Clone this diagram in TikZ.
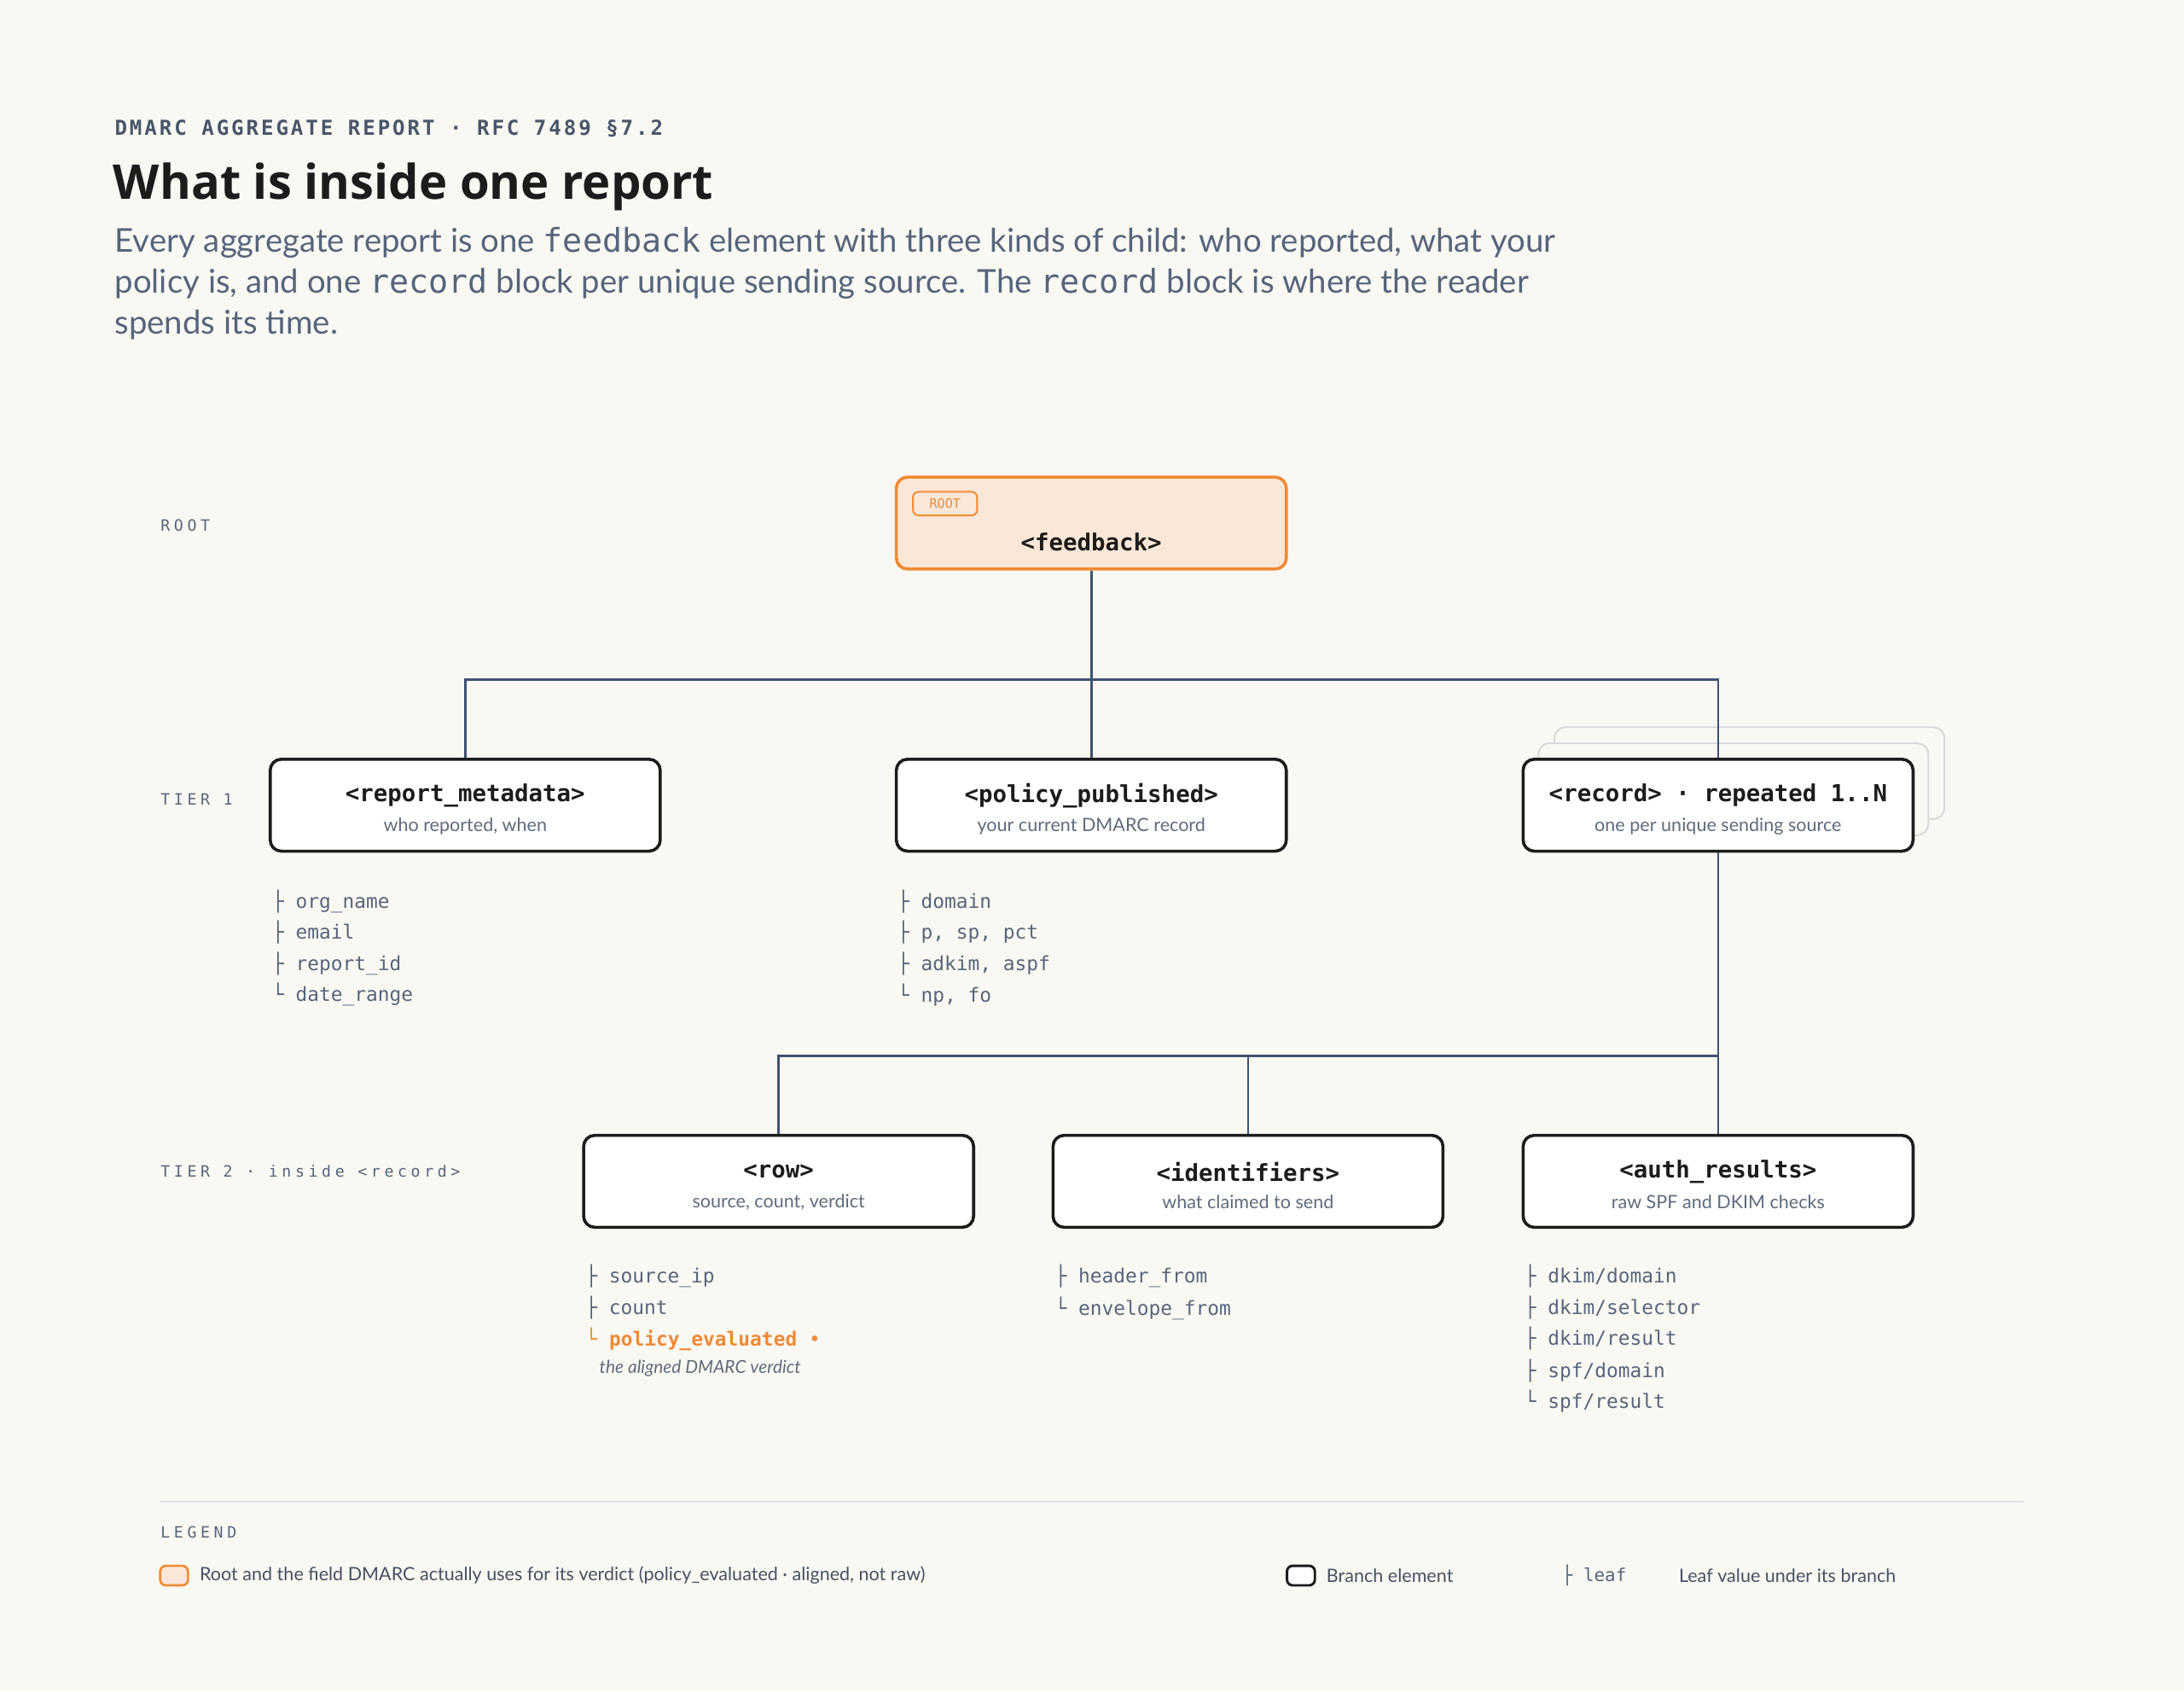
\documentclass[tikz,border=0pt]{standalone}
\usepackage{fontspec}
\setmainfont{Lato}
\setmonofont{DejaVu Sans Mono}
\newfontfamily\titlefont{Open Sans}
\newfontfamily\spmono[LetterSpace=25]{DejaVu Sans Mono}
\newfontfamily\spmonoB[LetterSpace=12]{DejaVu Sans Mono}
\definecolor{bg}{HTML}{FAF8F3}
\definecolor{slate}{HTML}{56657A}
\definecolor{ink}{HTML}{1C1C1C}
\definecolor{wire}{HTML}{3E5272}
\definecolor{org}{HTML}{EE8A35}
\definecolor{orgfill}{HTML}{FBE7D7}
\definecolor{sub}{HTML}{5F6B7C}
\begin{document}
\begin{tikzpicture}[x=0.5pt,y=-0.5pt,
  box/.style={draw=ink,line width=1.1pt,fill=white,rounded corners=4pt,minimum width=140pt,minimum height=33pt,inner sep=0pt},
  ghost/.style={draw=black!15,line width=0.6pt,fill=bg,rounded corners=4pt,minimum width=140pt,minimum height=33pt},
  lbl/.style={font=\ttfamily\fontsize{8.4}{10}\selectfont\bfseries,text=ink},
  sl/.style={font=\fontsize{6.6}{7}\selectfont,text=sub},
  leaf/.style={anchor=west,inner sep=0,font=\ttfamily\fontsize{7}{8}\selectfont,text=slate},
  tier/.style={anchor=west,inner sep=0,font=\spmono\fontsize{5.6}{6}\selectfont,text=slate},
  wirel/.style={draw=wire,line width=0.8pt}]
\fill[bg] (0,0) rectangle (1568,1214);
\useasboundingbox (0,0) rectangle (1568,1214);
% header
\node[anchor=west,inner sep=0,font=\spmonoB\fontsize{7.4}{8}\selectfont\bfseries,text=slate!85!black] (hd) at (82,92) {DMARC AGGREGATE REPORT · RFC 7489 §7.2};
\node[anchor=west,inner sep=0,font=\titlefont\fontsize{17.2}{22}\selectfont\bfseries,text=ink] (tt) at (81,134) {What is inside one report};
\node[anchor=north west,inner sep=0,align=left,font=\fontsize{11.75}{14.6}\selectfont,text=slate] (st) at (82,163) {Every aggregate report is one \texttt{feedback} element with three kinds of child: who reported, what your\\policy is, and one \texttt{record} block per unique sending source. The \texttt{record} block is where the reader\\spends its time.};
% tier labels
\node[tier] (t0) at (115,377) {ROOT};
\node[tier] (t1) at (115,574) {TIER 1};
\node[tier] (t2) at (115,841) {TIER 2 · inside <record>};
% root
\node[box,draw=org,fill=orgfill] (fb) at (783.5,375.5) {};
\node[lbl] (fbl) at (783.5,389) {<feedback>};
\node[draw=org,line width=0.6pt,rounded corners=2pt,minimum width=23pt,minimum height=8.5pt,inner sep=0,font=\ttfamily\fontsize{4.6}{5}\selectfont,text=org] (rt) at (678.5,361.5) {ROOT};
% tier1
\node[ghost] (g2) at (1256,555) {};
\node[ghost] (g1) at (1244.5,566.5) {};
\node[box] (rm) at (334,578) {};
\node[box] (pp) at (783.5,578) {};
\node[box] (rc) at (1233.5,578) {};
\node[lbl] at (334,571) {<report\_metadata>};
\node[sl] at (334,593) {who reported, when};
\node[lbl] at (783.5,571) {<policy\_published>};
\node[sl] at (783.5,593) {your current DMARC record};
\node[lbl] at (1233.5,571) {<record> · repeated 1..N};
\node[sl] at (1233.5,593) {one per unique sending source};
% tier2
\node[box] (rw) at (559,848) {};
\node[box] (id) at (896,848) {};
\node[box] (ar) at (1233.5,848) {};
\node[lbl] at (559,841) {<row>};
\node[sl] at (559,863) {source, count, verdict};
\node[lbl] at (896,841) {<identifiers>};
\node[sl] at (896,863) {what claimed to send};
\node[lbl] at (1233.5,841) {<auth\_results>};
\node[sl] at (1233.5,863) {raw SPF and DKIM checks};
% connectors
\coordinate (b1) at (783.5,488);
\draw[wirel] (fb.south) -- (b1);
\draw[wirel] (rm.north) |- (b1) -| (rc.north);
\draw[wirel] (b1) -- (pp.north);
\coordinate (b2) at (1233.5,758);
\draw[wirel] (rc.south) -- (b2);
\draw[wirel] (rw.north) |- (b2) -- (ar.north);
\draw[wirel] (id.north) -- (id.north |- b2);
% leaves
\foreach \t/\y/\c in {org\_name/647/├,email/669/├,report\_id/692/├,date\_range/714/└}
  \node[leaf] at (195,\y) {\c\ \t};
\foreach \t/\y/\c in {domain/647/├,{p, sp, pct}/669/├,{adkim, aspf}/692/├,{np, fo}/714/└}
  \node[leaf] at (644,\y) {\c\ \t};
\node[leaf] (l1) at (420,916) {├ source\_ip};
\node[leaf] (l2) at (420,939) {├ count};
\node[leaf,text=org] (l3) at (420,961) {└ \textbf{policy\_evaluated} •};
\node[anchor=west,inner sep=0,font=\itshape\fontsize{6.4}{7}\selectfont,text=sub] (l4) at (430,982) {the aligned DMARC verdict};
\node[leaf] at (757,916) {├ header\_from};
\node[leaf] at (757,939) {└ envelope\_from};
\foreach \t/\y/\c in {{dkim/domain}/916/├,{dkim/selector}/939/├,{dkim/result}/961/├,{spf/domain}/984/├,{spf/result}/1006/└}
  \node[leaf] at (1094,\y) {\c\ \t};
% legend
\draw[black!12,line width=0.8pt] (115,1078) -- (1453,1078);
\node[tier] (lg) at (115,1100) {LEGEND};
\draw[org,fill=orgfill,line width=0.8pt,rounded corners=2pt] (115,1124) rectangle (135,1138);
\node[anchor=west,inner sep=0,font=\fontsize{6.6}{7}\selectfont,text=slate!80!black] at (143,1131) {Root and the field DMARC actually uses for its verdict (policy\_evaluated · aligned, not raw)};
\draw[ink,fill=white,line width=0.9pt,rounded corners=2pt] (924,1124) rectangle (944,1138);
\node[anchor=west,inner sep=0,font=\fontsize{6.6}{7}\selectfont,text=slate!80!black] at (952,1131) {Branch element};
\node[anchor=west,inner sep=0,font=\ttfamily\fontsize{6.4}{7}\selectfont,text=slate] at (1121,1131) {├ leaf};
\node[anchor=west,inner sep=0,font=\fontsize{6.6}{7}\selectfont,text=slate!80!black] at (1205,1131) {Leaf value under its branch};
\end{tikzpicture}
\end{document}
